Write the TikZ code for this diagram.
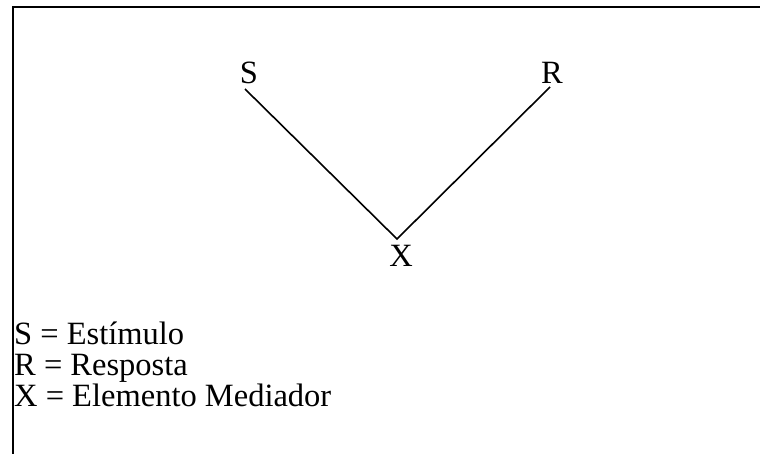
\documentclass[tikz,border=0pt]{standalone}
\usepackage{fontspec}
\setmainfont{Liberation Serif}
\begin{document}
\begin{tikzpicture}[x=1pt,y=1pt,
  lbl/.style={inner sep=0pt,font=\fontsize{32.5}{32.5}\selectfont},
  ln/.style={line width=1.6pt,line cap=butt},
  frame/.style={line width=2pt}]
\useasboundingbox (0,0) rectangle (760,-454);
% frame
\coordinate (fb) at (12.5,-454);
\coordinate (fc) at (12.5,-7);
\coordinate (fr) at (760,-7);
\draw[frame] (fb) -- (fc) -- (fr);
% labels
\node[lbl,anchor=base] (S) at (249,-84) {S};
\node[lbl,anchor=base] (R) at (552,-84) {R};
\node[lbl,anchor=base] (X) at (401,-267) {X};
% connectors
\coordinate (sEnd) at (245,-89);
\coordinate (rEnd) at (550,-87);
\coordinate (xTop) at (397,-239);
\draw[ln] (sEnd) -- (xTop) -- (rEnd);
% legend
\node[lbl,anchor=base west] (l1) at (14,-344) {S = Estímulo};
\node[lbl,anchor=base west] (l2) at (14,-375) {R = Resposta};
\node[lbl,anchor=base west] (l3) at (14,-406) {X = Elemento Mediador};
\end{tikzpicture}
\end{document}
